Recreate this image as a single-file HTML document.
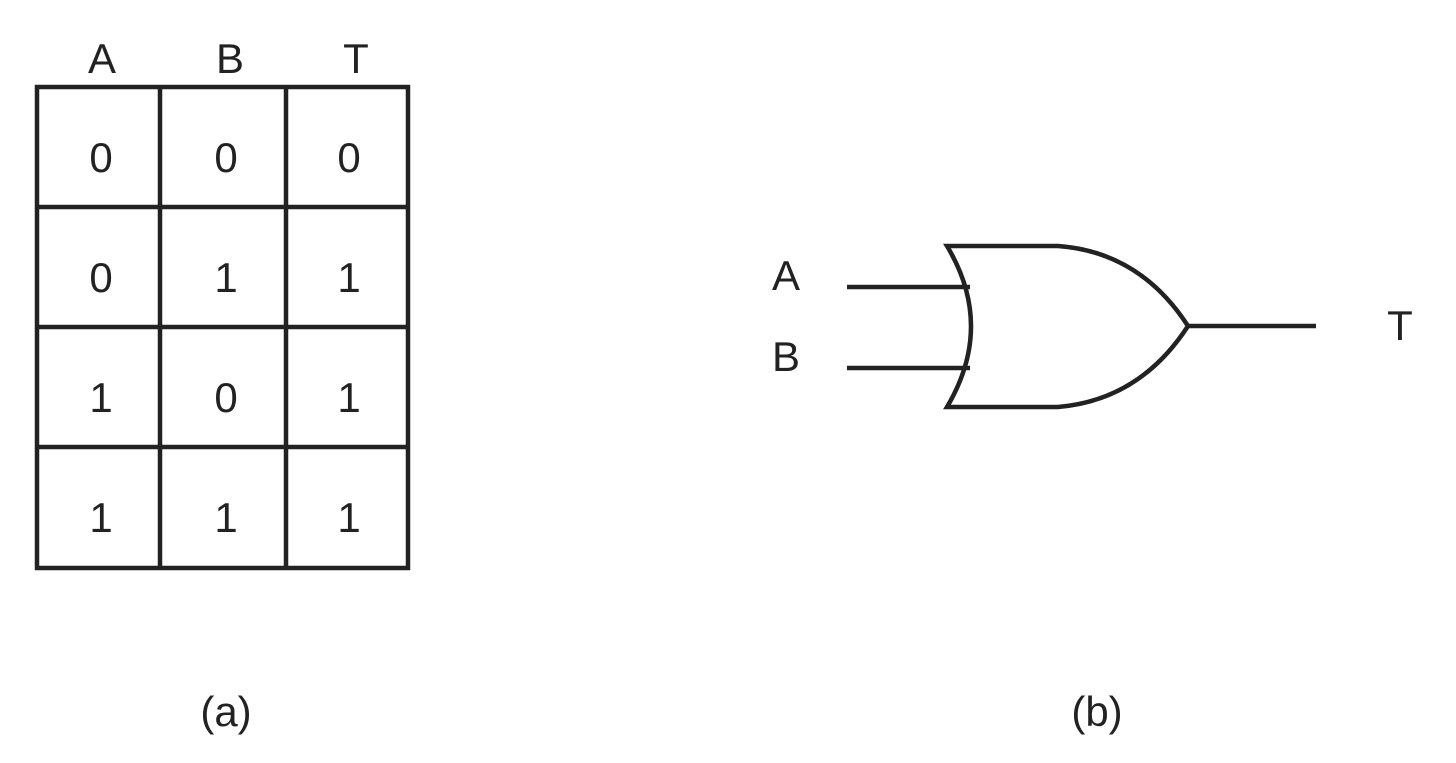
<!DOCTYPE html>
<html><head><style>body{margin:0;background:#fff}</style></head><body>
<svg width="1456" height="758" xmlns="http://www.w3.org/2000/svg" font-family="Liberation Sans, sans-serif" font-size="42" fill="#222">
<g stroke="#222" stroke-width="4.5" fill="none">
<rect x="37" y="87" width="371" height="481"/>
<line x1="160" y1="87" x2="160" y2="568"/>
<line x1="286" y1="87" x2="286" y2="568"/>
<line x1="37" y1="207" x2="408" y2="207"/>
<line x1="37" y1="327" x2="408" y2="327"/>
<line x1="37" y1="447" x2="408" y2="447"/>
<line x1="847" y1="287" x2="970" y2="287"/>
<line x1="847" y1="368" x2="970" y2="368"/>
<line x1="1188" y1="326" x2="1316" y2="326"/>
<path d="M947 246 L1058 246 Q1140 252 1188 326 Q1140 400 1058 407 L947 407 Q995 326 947 246 Z" stroke-linejoin="miter"/>
</g>
<g text-anchor="middle">
<text x="102" y="73">A</text><text x="230" y="73">B</text><text x="356" y="73">T</text>
<text x="101" y="172">0</text><text x="226" y="172">0</text><text x="349" y="172">0</text>
<text x="101" y="292">0</text><text x="226" y="292">1</text><text x="349" y="292">1</text>
<text x="101" y="412">1</text><text x="226" y="412">0</text><text x="349" y="412">1</text>
<text x="101" y="532">1</text><text x="226" y="532">1</text><text x="349" y="532">1</text>
<text x="786" y="290">A</text><text x="786" y="371">B</text><text x="1400" y="340">T</text>
<text x="226" y="726">(a)</text><text x="1097" y="726">(b)</text>
</g>
</svg>
</body></html>
